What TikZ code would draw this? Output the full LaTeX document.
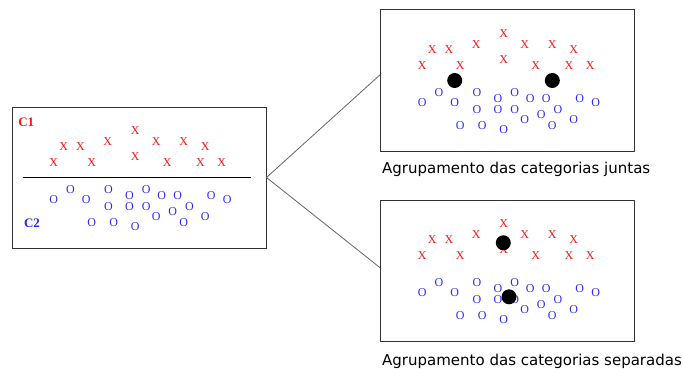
\documentclass[tikz,border=0pt]{standalone}
\usepackage{fontspec}
\setmainfont{Liberation Serif}
\newfontfamily\capfont{DejaVu Sans}
\usetikzlibrary{calc}
\definecolor{xred}{RGB}{255,20,20}
\definecolor{oblue}{RGB}{40,40,240}
\definecolor{edgecol}{RGB}{50,50,50}
\definecolor{conncol}{RGB}{100,100,100}
\tikzset{
  box/.style={draw=edgecol, line width=1pt, minimum width=254pt, minimum height=141pt, inner sep=0pt, fill=white},
  xm/.style={text=xred, font=\fontsize{12}{12}\selectfont, inner sep=0pt},
  om/.style={text=oblue, font=\fontsize{12}{12}\selectfont, inner sep=0pt},
  clab/.style={font=\fontsize{13}{13}\selectfont\bfseries, inner sep=0pt},
  cent/.style={circle, fill=black, minimum size=15pt, inner sep=0pt},
  connline/.style={draw=conncol, line width=0.8pt},
  captxt/.style={font=\capfont\fontsize{15}{15}\selectfont, anchor=base west, inner sep=0pt},
}
\newcommand\mkpattern[1]{%
  \foreach \px/\py [count=\i] in {123.7/23.7, 52.3/40.3, 69/40.3, 96.3/34.7, 144.7/34.7, 172.3/34.7, 193.7/40.3, 42.3/55.7, 80.3/55.7, 123.7/50.3, 155.7/55.7, 189/55.7, 210.3/55.7}
    \node[xm] (#1x\i) at ($(#1.north west)+(\px,\py)$) {X};
  \foreach \px/\py [count=\i] in {42.3/93, 59/83, 74.7/93, 97/83, 97/99.7, 118/89, 118/99.7, 134.7/83, 134.7/99.7, 150.3/89, 166.3/89, 178/99.7, 161.3/104.7, 144.7/110.3, 172.3/115.7, 193.7/110.3, 199.7/89, 215.7/93, 80.3/115.7, 102.3/115.7, 123.7/120.3}
    \node[om] (#1o\i) at ($(#1.north west)+(\px,\py)$) {O};
}
\begin{document}
\begin{tikzpicture}[x=1pt,y=-1pt]
  \useasboundingbox (0,0) rectangle (683,369);
  % boxes
  \node[box] (L) at (139,177.5) {};
  \node[box] (TR) at (507.5,80.5) {};
  \node[box] (BR) at (507.5,270.5) {};
  % connectors
  \coordinate (ta) at ($(TR.north west)!0.46!(TR.south west)$);
  \coordinate (ba) at ($(BR.north west)!0.48!(BR.south west)$);
  \draw[connline] (ta) -- (L.east) -- (ba);
  % left box content
  \mkpattern{L}
  \draw[draw=black, line width=0.8pt] ($(L.west)+(11,0)$) -- ($(L.east)+(-16,0)$);
  \node[clab, text=xred] (c1) at ($(L.north west)+(14.7,16)$) {C1};
  \node[clab, text=oblue] (c2) at ($(L.north west)+(20.5,117)$) {C2};
  % right boxes
  \mkpattern{TR}
  \mkpattern{BR}
  \node[cent] (tr1) at ($(TR.north west)+(74.7,71)$) {};
  \node[cent] (tr2) at ($(TR.north west)+(172.3,71)$) {};
  \node[cent] (br1) at ($(BR.north west)+(123.3,43.3)$) {};
  \node[cent] (br2) at ($(BR.north west)+(129,97.3)$) {};
  % captions
  \node[captxt] (cap1) at (382,173.3) {Agrupamento das categorias juntas};
  \node[captxt] (cap2) at (382,365) {Agrupamento das categorias separadas};
\end{tikzpicture}
\end{document}
